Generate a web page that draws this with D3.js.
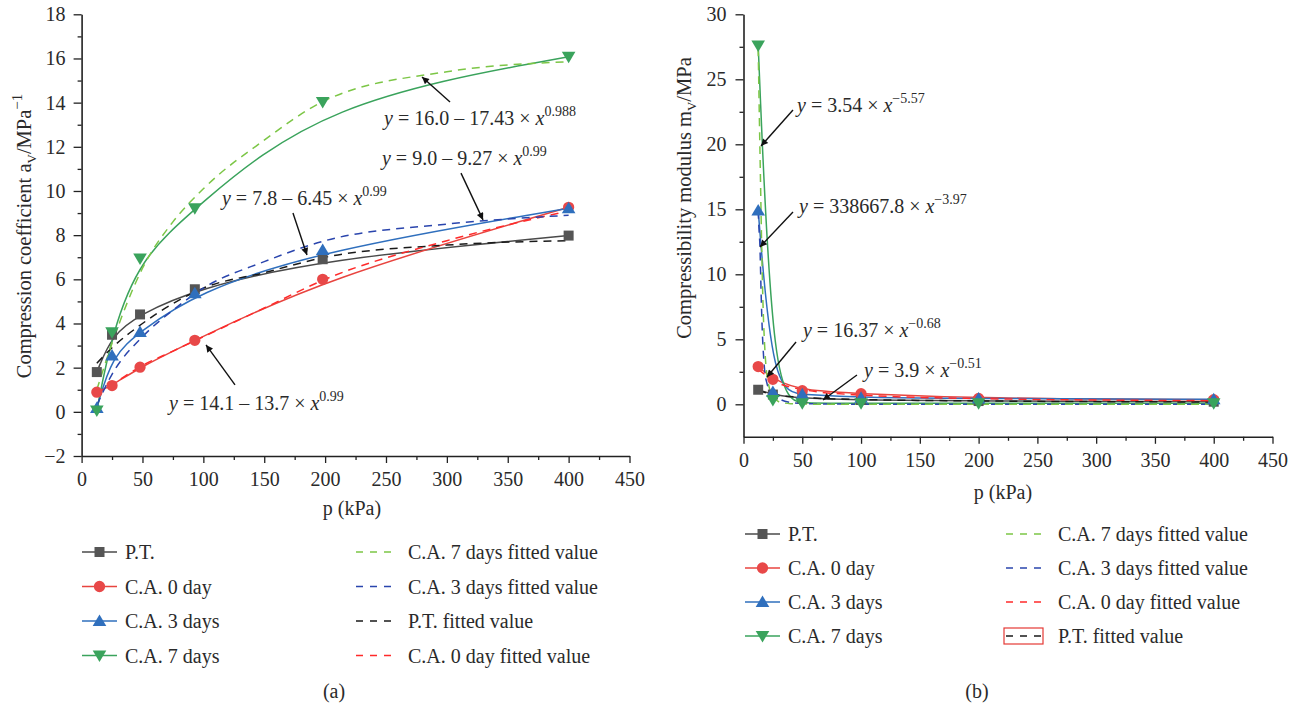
<!DOCTYPE html>
<html><head><meta charset="utf-8">
<script src="https://cdn.jsdelivr.net/npm/d3@7"></script>
<style>
body{margin:0;background:#fff}
svg{display:block}
text{font-family:"Liberation Serif","Times New Roman",serif;fill:#2a2a2a}
</style>
</head><body><svg id="c" width="1295" height="711"></svg>
<script>
// ---------- DATA : (a) compression coefficient ----------
const pLeft = [12.5, 25, 48, 93, 198, 400];
const avPT  = [1.80, 3.49, 4.41, 5.55, 6.91, 7.98];
const avCA0 = [0.89, 1.19, 2.02, 3.24, 6.00, 9.26];
const avCA3 = [0.17, 2.55, 3.62, 5.37, 7.33, 9.22];
const avCA7 = [0.06, 3.60, 6.94, 9.22, 14.03, 16.08];
// fitted curves
const fitXL   = [12.5, 25, 50, 75, 100, 150, 200, 300, 400];
const fitPTL  = [2.2, 2.9, 4.0, 4.9, 5.6, 6.3, 7.0, 7.55, 7.75];
const fitCA0L = [0.85, 1.25, 2.1, 2.75, 3.4, 4.7, 6.0, 7.75, 9.1];
const fitCA3L = [0.3, 1.7, 3.4, 4.6, 5.6, 6.8, 7.75, 8.5, 8.9];
const fitCA7L = [1.0, 3.1, 6.5, 8.6, 10.1, 12.3, 14.1, 15.4, 15.85];
const xTicksL = [0, 50, 100, 150, 200, 250, 300, 350, 400, 450];
const yTicksL = [-2, 0, 2, 4, 6, 8, 10, 12, 14, 16, 18];

// ---------- DATA : (b) compressibility modulus ----------
const pRight = [12.5, 25, 50, 100, 200, 400];
const mvPT  = [1.12, 0.75, 0.45, 0.33, 0.25, 0.20];
const mvCA0 = [2.90, 1.92, 1.05, 0.82, 0.45, 0.35];
const mvCA3 = [14.9, 0.95, 0.78, 0.50, 0.45, 0.38];
const mvCA7 = [27.6, 0.33, 0.08, 0.08, 0.08, 0.08];
const fitX7R   = [12.5, 13.5, 14.5, 15.5, 16.5, 18, 20, 25, 30, 40, 50, 100, 200, 400];
const fitCA7R  = [27.4, 22, 17, 12, 8, 4.5, 2.2, 0.6, 0.2, 0.05, 0.02, 0, 0, 0];
const fitX3R   = [12.5, 13, 14, 15, 16, 17, 18, 20, 22, 25, 30, 40, 50, 100, 200, 400];
const fitCA3R  = [14.9, 13.8, 12.1, 8.5, 5.6, 3.8, 2.6, 1.6, 1.1, 0.9, 0.45, 0.14, 0.06, 0.01, 0, 0];
const fitCA0R  = [2.7, 1.85, 1.14, 0.71, 0.44, 0.28];
const fitPTR   = [1.08, 0.76, 0.53, 0.37, 0.26, 0.18];
const xTicksR = [0, 50, 100, 150, 200, 250, 300, 350, 400, 450];
const yTicksR = [0, 5, 10, 15, 20, 25, 30];

// annotations (data coordinates): text anchor, arrow start, arrow tip
const annL = [
  {t:"16.0 – 17.43 × ", e:"0.988", tx:248.4, ty:12.99, ax:302.6, ay:14.03, bx:279.6, by:15.16},
  {t:"9.0 – 9.27 × ",  e:"0.99",  tx:246.7, ty:11.18, ax:311.6, ay:10.81, bx:329.7, by:8.69},
  {t:"7.8 – 6.45 × ",  e:"0.99",  tx:115.3, ty:9.37,  ax:173.6, ay:9.0,   bx:185.1, by:7.10},
  {t:"14.1 – 13.7 × ", e:"0.99",  tx:71.8,  ty:0.09,  ax:126.0, ay:1.22,  bx:102.2, by:3.03}
];
const annR = [
  {t:"3.54 × ",     e:"−5.57", tx:45.5,  ty:22.48, ax:42.1, ay:22.64, bx:14.9, by:19.87},
  {t:"338667.8 × ", e:"−3.97", tx:47.2,  ty:14.72, ax:42.1, ay:14.79, bx:14.0, by:12.1},
  {t:"16.37 × ",    e:"−0.68", tx:50.6,  ty:5.18,  ax:44.7, ay:4.79,  bx:20.0, by:2.1},
  {t:"3.9 × ",      e:"−0.51", tx:102.5, ty:2.10,  ax:96.5, ay:2.25,  bx:67.6, by:0.33}
];

const COL = {
  PT:"#4a4a4a", PTm:"#555555",
  CA0:"#e8443f", CA0m:"#e84848",
  CA3:"#2f6fbd", CA3m:"#2f6fbd",
  CA7:"#3aa35c", CA7m:"#3aa35c",
  fPT:"#1a1a1a", fCA0:"#ff2a2a", fCA3:"#2a45ad", fCA7:"#7cc646"
};
const FS = 20;

const svg = d3.select("#c");
const defs = svg.append("defs");
defs.append("marker").attr("id","arr").attr("viewBox","0 0 10 10").attr("refX",10).attr("refY",5)
  .attr("markerWidth",11).attr("markerHeight",7).attr("markerUnits","userSpaceOnUse").attr("orient","auto")
  .append("path").attr("d","M0,0 L10,5 L0,10 z").attr("fill","#111");

const xL = d3.scaleLinear().domain([0,450]).range([81.6,629.5]);
const yL = d3.scaleLinear().domain([-2,18]).range([456,14.3]);
const xR = d3.scaleLinear().domain([0,450]).range([743.5,1272.5]);
const yR = d3.scaleLinear().domain([-2.5,30]).range([436.8,14.3]);

function drawAxes(x, y, xt, yt, xminor, yminor, ypad, xpad){
  const g = svg.append("g");
  const y0 = y.range()[0];
  const x0 = x.range()[0];
  g.append("g").attr("transform",`translate(0,${y0})`)
    .call(d3.axisBottom(x).tickValues(xt).tickSize(7).tickSizeOuter(0).tickPadding(xpad).tickFormat(d3.format("d")));
  g.append("g").attr("transform",`translate(0,${y0})`)
    .call(d3.axisBottom(x).tickValues(xminor).tickSize(4).tickSizeOuter(0).tickFormat(""))
    .select(".domain").remove();
  g.append("g").attr("transform",`translate(${x0},0)`)
    .call(d3.axisLeft(y).tickValues(yt).tickSize(8).tickSizeOuter(0).tickPadding(ypad).tickFormat(d=>d<0?"−"+Math.abs(d):d));
  g.append("g").attr("transform",`translate(${x0},0)`)
    .call(d3.axisLeft(y).tickValues(yminor).tickSize(4).tickSizeOuter(0).tickFormat(""))
    .select(".domain").remove();
  g.selectAll(".domain").attr("stroke","#222").attr("stroke-width",1.6);
  g.selectAll(".tick line").attr("stroke","#222").attr("stroke-width",1.3);
  g.selectAll(".tick text").attr("font-size",FS).attr("fill","#2a2a2a")
    .attr("font-family",'"Liberation Serif","Times New Roman",serif');
}

const xMinor = d3.range(25,450,50);
drawAxes(xL,yL,xTicksL,yTicksL,xMinor,d3.range(-1,18,2),8,9);
drawAxes(xR,yR,xTicksR,yTicksR,xMinor,[2.5,7.5,12.5,17.5,22.5,27.5],9,9);

function line(x,y,xs,ys,curve){
  return d3.line().x((d,i)=>x(xs[i])).y(d=>y(d)).curve(curve)(ys);
}
function solid(x,y,xs,ys,c){
  svg.append("path").attr("d",line(x,y,xs,ys,d3.curveBasis)).attr("fill","none")
    .attr("stroke",c).attr("stroke-width",1.5);
}
function dashed(x,y,xs,ys,c){
  svg.append("path").attr("d",line(x,y,xs,ys,d3.curveMonotoneX)).attr("fill","none")
    .attr("stroke",c).attr("stroke-width",1.5).attr("stroke-dasharray","8,6");
}
const sym = {
  sq: d3.symbol().type(d3.symbolSquare).size(100)(),
  ci: d3.symbol().type(d3.symbolCircle).size(100)(),
  up: "M0,-6.5L6.8,5L-6.8,5Z",
  dn: "M0,6.5L6.8,-5L-6.8,-5Z"
};
function markers(x,y,xs,ys,s,c){
  svg.append("g").selectAll("path").data(ys).join("path")
    .attr("d",sym[s]).attr("fill",c)
    .attr("transform",(d,i)=>`translate(${x(xs[i])},${y(d)})`);
}
function annotate(x,y,list){
  list.forEach(a=>{
    svg.append("line").attr("x1",x(a.ax)).attr("y1",y(a.ay)).attr("x2",x(a.bx)).attr("y2",y(a.by))
      .attr("stroke","#111").attr("stroke-width",1.4).attr("marker-end","url(#arr)");
    const t = svg.append("text").attr("x",x(a.tx)).attr("y",y(a.ty)).attr("font-size",FS);
    t.append("tspan").attr("font-style","italic").text("y");
    t.append("tspan").text(" = "+a.t);
    t.append("tspan").attr("font-style","italic").text("x");
    t.append("tspan").attr("font-size",14).attr("dy",-9).text(a.e);
  });
}

// ---- panel (a)
solid(xL,yL,pLeft,avPT,COL.PT);
solid(xL,yL,pLeft,avCA0,COL.CA0);
solid(xL,yL,pLeft,avCA3,COL.CA3);
solid(xL,yL,pLeft,avCA7,COL.CA7);
dashed(xL,yL,fitXL,fitPTL,COL.fPT);
dashed(xL,yL,fitXL,fitCA0L,COL.fCA0);
dashed(xL,yL,fitXL,fitCA3L,COL.fCA3);
dashed(xL,yL,fitXL,fitCA7L,COL.fCA7);
markers(xL,yL,pLeft,avPT,"sq",COL.PTm);
markers(xL,yL,pLeft,avCA0,"ci",COL.CA0m);
markers(xL,yL,pLeft,avCA3,"up",COL.CA3m);
markers(xL,yL,pLeft,avCA7,"dn",COL.CA7m);
annotate(xL,yL,annL);

// ---- panel (b)
solid(xR,yR,pRight,mvPT,COL.PT);
solid(xR,yR,pRight,mvCA0,COL.CA0);
solid(xR,yR,pRight,mvCA3,COL.CA3);
solid(xR,yR,pRight,mvCA7,COL.CA7);
dashed(xR,yR,pRight,fitPTR,COL.fPT);
dashed(xR,yR,pRight,fitCA0R,COL.fCA0);
dashed(xR,yR,fitX3R,fitCA3R,COL.fCA3);
dashed(xR,yR,fitX7R,fitCA7R,COL.fCA7);
markers(xR,yR,pRight,mvPT,"sq",COL.PTm);
markers(xR,yR,pRight,mvCA0,"ci",COL.CA0m);
markers(xR,yR,pRight,mvCA3,"up",COL.CA3m);
markers(xR,yR,pRight,mvCA7,"dn",COL.CA7m);
annotate(xR,yR,annR);

// ---- axis titles
svg.append("text").attr("x",352).attr("y",515).attr("text-anchor","middle").attr("font-size",FS).text("p (kPa)");
svg.append("text").attr("x",1003).attr("y",499).attr("text-anchor","middle").attr("font-size",FS).text("p (kPa)");
{
  const t = svg.append("text").attr("transform","translate(31,236) rotate(-90)").attr("text-anchor","middle").attr("font-size",20.5);
  t.append("tspan").text("Compression coefficient a");
  t.append("tspan").attr("font-size",13).attr("dy",5).text("V");
  t.append("tspan").attr("dy",-5).text("/MPa");
  t.append("tspan").attr("font-size",15).attr("dy",-9).text("−1");
}
{
  const t = svg.append("text").attr("transform","translate(691,198) rotate(-90)").attr("text-anchor","middle").attr("font-size",20.5);
  t.append("tspan").text("Compressibility modulus m");
  t.append("tspan").attr("font-size",13).attr("dy",5).text("V");
  t.append("tspan").attr("dy",-5).text("/MPa");
}

// ---- legends
function legend(x0, y0, dy, x1, items1, items2, boxLast){
  items1.forEach((it,i)=>{
    const y = y0+i*dy;
    svg.append("line").attr("x1",x0).attr("x2",x0+35).attr("y1",y).attr("y2",y).attr("stroke",it.c).attr("stroke-width",1.5);
    svg.append("path").attr("d",sym[it.s]).attr("fill",it.m).attr("transform",`translate(${x0+17.5},${y})`);
    svg.append("text").attr("x",x0+43).attr("y",y+7).attr("font-size",FS).text(it.n);
  });
  items2.forEach((it,i)=>{
    const y = y0+i*dy;
    svg.append("line").attr("x1",x1).attr("x2",x1+36).attr("y1",y).attr("y2",y).attr("stroke",it.c)
      .attr("stroke-width",1.3).attr("stroke-dasharray","7,7");
    svg.append("text").attr("x",x1+52).attr("y",y+7).attr("font-size",FS).text(it.n);
    if(boxLast && i===items2.length-1){
      svg.append("rect").attr("x",x1-2).attr("y",y-8).attr("width",39).attr("height",16)
        .attr("fill","none").attr("stroke","#e53935").attr("stroke-width",1.2);
    }
  });
}
const solidItems = [
  {n:"P.T.", c:COL.PT, m:COL.PTm, s:"sq"},
  {n:"C.A. 0 day", c:COL.CA0, m:COL.CA0m, s:"ci"},
  {n:"C.A. 3 days", c:COL.CA3, m:COL.CA3m, s:"up"},
  {n:"C.A. 7 days", c:COL.CA7, m:COL.CA7m, s:"dn"}
];
legend(82, 552, 34.5, 356, solidItems, [
  {n:"C.A. 7 days fitted value", c:COL.fCA7},
  {n:"C.A. 3 days fitted value", c:COL.fCA3},
  {n:"P.T. fitted value", c:COL.fPT},
  {n:"C.A. 0 day fitted value", c:COL.fCA0}
], false);
legend(745, 534, 34, 1006, solidItems, [
  {n:"C.A. 7 days fitted value", c:COL.fCA7},
  {n:"C.A. 3 days fitted value", c:COL.fCA3},
  {n:"C.A. 0 day fitted value", c:COL.fCA0},
  {n:"P.T. fitted value", c:COL.fPT}
], true);

svg.append("text").attr("x",334).attr("y",698).attr("text-anchor","middle").attr("font-size",FS).text("(a)");
svg.append("text").attr("x",977).attr("y",698).attr("text-anchor","middle").attr("font-size",FS).text("(b)");
</script>
</body></html>
